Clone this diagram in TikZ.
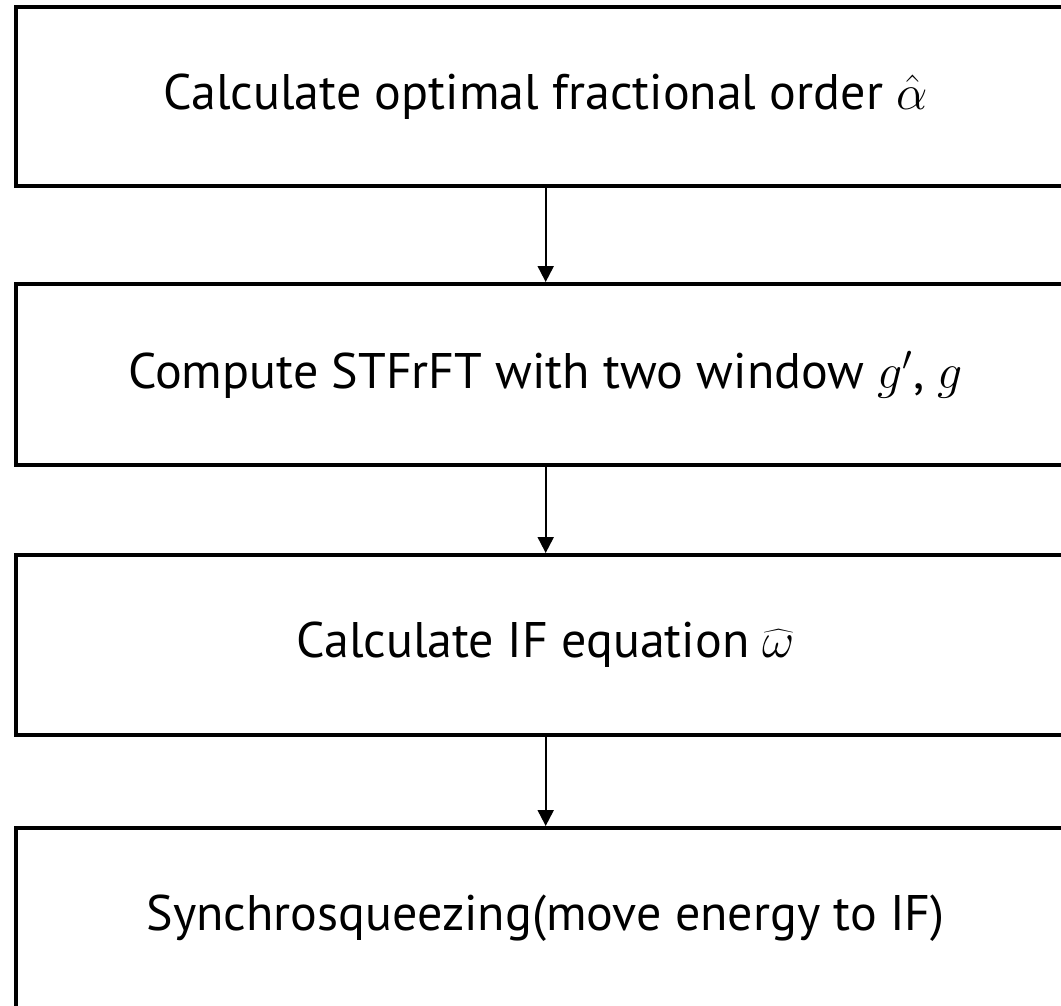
\documentclass[tikz,border=0pt]{standalone}
\usepackage{fontspec}
\setmainfont{PT Sans}
\usepackage{tikz}
\usetikzlibrary{arrows.meta,positioning}

\begin{document}
\begin{tikzpicture}[x=0.5pt,y=-0.5pt,
    stepbox/.style={draw=black,line width=2pt,minimum width=529.5pt,
      inner sep=0pt,font=\fontsize{25}{29}\selectfont},
    flow/.style={-{Triangle[length=8pt,width=8pt]},line width=1pt}]
    \useasboundingbox (0,0) rectangle (1061,1006);
    \clip (0,0) rectangle (1061,1006);

    \node[stepbox,minimum height=89.25pt] (alpha) at (545.7,96.75)
      {Calculate optimal fractional order $\hat{\alpha}$};
    \node[stepbox,minimum height=90.5pt] (stfrft) at (545.7,374.5)
      {Compute STFrFT with two window $g'$, $g$};
    \node[stepbox,minimum height=90pt] (ifeq) at (545.7,645)
      {Calculate IF equation $\widehat{\omega}$};
    \node[stepbox,minimum height=90pt] (squeeze) at (545.7,918)
      {Synchrosqueezing(move energy to IF)};

    \draw[flow] (alpha) -- (stfrft);
    \draw[flow] (stfrft) -- (ifeq);
    \draw[flow] (ifeq) -- (squeeze);
  \end{tikzpicture}
\end{document}
